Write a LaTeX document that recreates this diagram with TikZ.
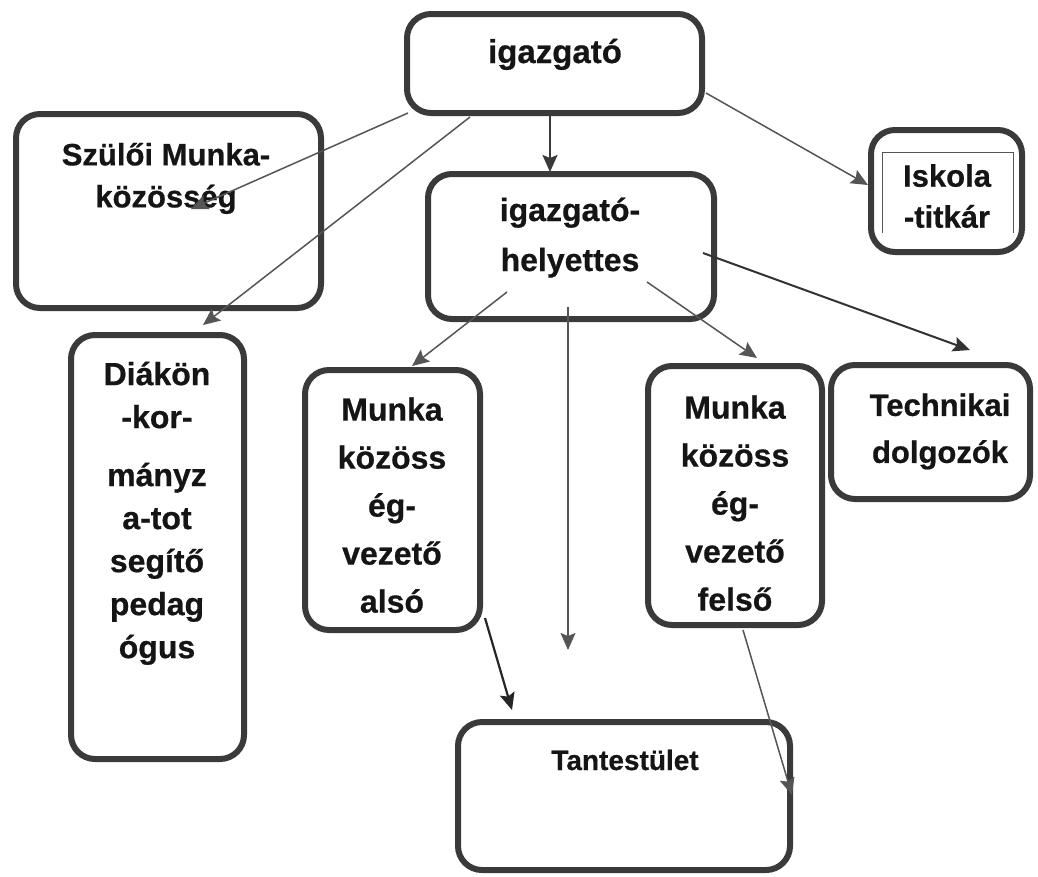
\documentclass[tikz,border=0pt]{standalone}
\usepackage{fontspec}
\setmainfont{Liberation Sans}[BoldFeatures={FakeBold=0.6}]
\usetikzlibrary{arrows.meta}
\definecolor{border}{HTML}{3A3A3A}
\definecolor{linegray}{HTML}{555555}
\definecolor{ink}{HTML}{151515}
\tikzset{
  orgbox/.style={draw=border, line width=6pt, rounded corners=24pt, fill=white, inner sep=0pt, outer sep=0pt},
  lbl/.style 2 args={font=\bfseries\fontsize{#1}{#2}\selectfont, align=center, text=ink, inner sep=0pt},
  link/.style={draw=linegray, line width=1.5pt, -{Stealth[length=17pt,width=15pt,inset=3pt]}},
  darklink/.style={link, draw=black!85, line width=2.2pt},
}
\begin{document}
\begin{tikzpicture}[x=1pt,y=-1pt]
\useasboundingbox (0,0) rectangle (1038,876);
\fill[white] (0,0) rectangle (1038,876);

% boxes
\node[orgbox, minimum width=295pt, minimum height=99pt]  (igazgato)    at (554.5,63.5) {};
\node[orgbox, minimum width=305pt, minimum height=194pt] (szulo)       at (168.5,211) {};
\node[orgbox, minimum width=286pt, minimum height=145pt] (helyettes)   at (571,246.5) {};
\node[orgbox, minimum width=151pt, minimum height=122pt] (iskola)      at (946.5,191) {};
\node[orgbox, minimum width=173pt, minimum height=424pt] (diak)        at (157.5,547) {};
\node[orgbox, minimum width=175pt, minimum height=260pt] (also)        at (392.5,500) {};
\node[orgbox, minimum width=174pt, minimum height=259pt] (felso)       at (735,495.5) {};
\node[orgbox, minimum width=199pt, minimum height=134pt] (technikai)   at (930.5,432) {};
\node[orgbox, minimum width=332pt, minimum height=148pt] (tantestulet) at (624,796) {};

% inner frame of Iskola-titkár
\draw[linegray, line width=1pt] (882,233) -- (882,152) -- (1013,152) -- (1013,233);

% texts
\node[lbl={33}{45}] (t-igazgato) at (555,54) {\strut igazgató};
\node[lbl={31}{42}] (t-szulo) at (166,178) {\strut Szülői Munka-\\\strut közösség};
\node[lbl={32}{50}] (t-helyettes) at (570,236) {\strut igazgató-\\\strut helyettes};
\node[lbl={31}{41}] (t-iskola) at (947,199) {\strut Iskola\\\strut -titkár};
\node[lbl={32}{43}] (t-diak) at (157,513) {\strut Diákön\\\strut -kor-\\[15pt]\strut mányz\\\strut a-tot\\\strut segítő\\\strut pedag\\\strut ógus};
\node[lbl={32}{48}] (t-also) at (392,507) {\strut Munka\\\strut közöss\\\strut ég-\\\strut vezető\\\strut alsó};
\node[lbl={32}{48}] (t-felso) at (735,505) {\strut Munka\\\strut közöss\\\strut ég-\\\strut vezető\\\strut felső};
\node[lbl={31}{47}] (t-technikai) at (940,430) {\strut Technikai\\\strut dolgozók};
\node[lbl={28}{40}] (t-tantestulet) at (625,762) {\strut Tantestület};

% connector end points
\coordinate (a1s) at (408,113);  \coordinate (a1e) at (191,209);
\coordinate (a2s) at (470,117);  \coordinate (a2e) at (203,325);
\coordinate (a3s) at (550,116);  \coordinate (a3e) at (550,172);
\coordinate (a4s) at (706,93);   \coordinate (a4e) at (868,185);
\coordinate (a5s) at (507,292);  \coordinate (a5e) at (412,366);
\coordinate (a6s) at (568,307);  \coordinate (a6e) at (568,650);
\coordinate (a7s) at (647,282);  \coordinate (a7e) at (757,358);
\coordinate (a8s) at (703,253);  \coordinate (a8e) at (970,350);
\coordinate (a9s) at (485,618);  \coordinate (a9e) at (512,710);
\coordinate (a10s) at (743,630); \coordinate (a10e) at (792,795);

% connectors
\draw[link] (a1s) -- (a1e);
\draw[link] (a2s) -- (a2e);
\draw[link, draw=border, line width=2pt] (a3s) -- (a3e);
\draw[link] (a4s) -- (a4e);
\draw[link] (a5s) -- (a5e);
\draw[link] (a6s) -- (a6e);
\draw[link] (a7s) -- (a7e);
\draw[link, draw=black!80, line width=2pt] (a8s) -- (a8e);
\draw[darklink] (a9s) -- (a9e);
\draw[link] (a10s) -- (a10e);
\end{tikzpicture}
\end{document}
